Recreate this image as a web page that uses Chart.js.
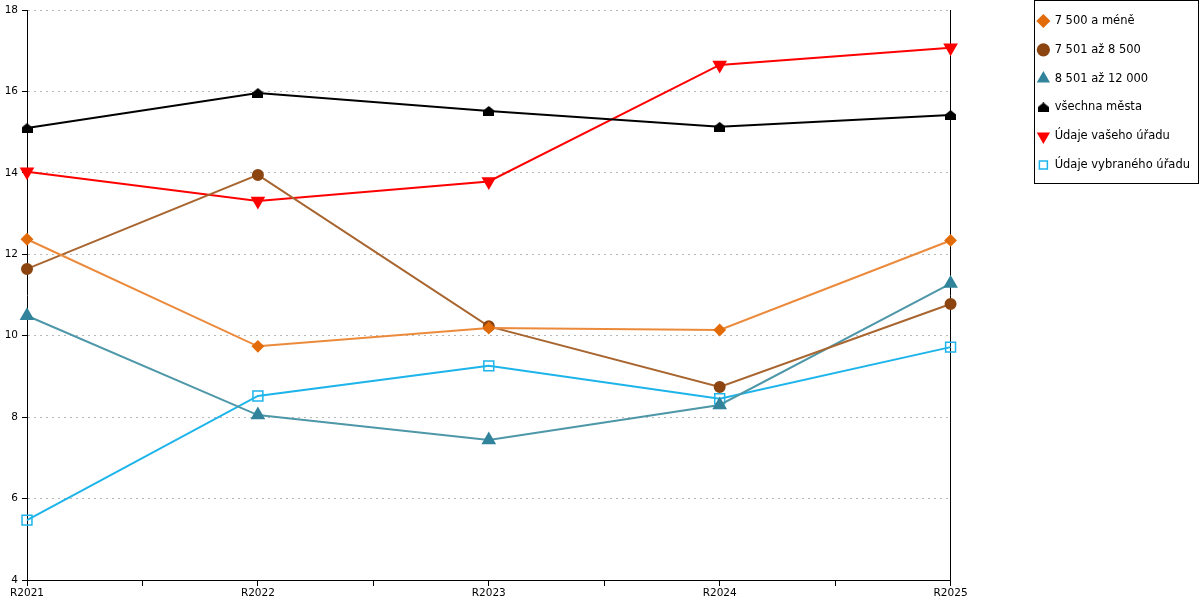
<!DOCTYPE html>
<html>
<head>
<meta charset="utf-8">
<script src="https://cdn.jsdelivr.net/npm/chart.js@4.4.0/dist/chart.umd.min.js"></script>
<style>
  body { margin: 0; background: #fff; }
</style>
</head>
<body>
<canvas id="lineChart" width="1200" height="600"></canvas>
<script>
const years = ["R2021", "R2022", "R2023", "R2024", "R2025"];
const seriesNames = [
  "7 500 a méně",
  "7 501 až 8 500",
  "8 501 až 12 000",
  "všechna města",
  "Údaje vašeho úřadu",
  "Údaje vybraného úřadu",
];
const upTo7500 = [12.37, 9.74, 10.19, 10.14, 12.34];
const from7501 = [11.64, 13.95, 10.23, 8.74, 10.78];
const from8501 = [10.49, 8.05, 7.44, 8.3, 11.28];
const allCities = [15.1, 15.96, 15.52, 15.13, 15.42];
const yourOffice = [14.03, 13.31, 13.79, 16.65, 17.07];
const selectedOffice = [5.47, 8.52, 9.26, 8.45, 9.72];
const yRange = [4, 18];

const tickFont = { family: "DejaVu Sans", size: 10.5 };

// small "house" marker for the all-cities series
function houseMarker(w, h, color) {
  const c = document.createElement("canvas");
  c.width = w;
  c.height = h;
  const g = c.getContext("2d");
  g.fillStyle = color;
  g.beginPath();
  g.moveTo(w / 2, 0);
  g.lineTo(w, h * 0.45);
  g.lineTo(w, h);
  g.lineTo(0, h);
  g.lineTo(0, h * 0.45);
  g.closePath();
  g.fill();
  return c;
}

const toPoints = (values) => values.map((v, i) => ({ x: i, y: v }));

const datasets = [
  {
    label: seriesNames[0],
    data: toPoints(upTo7500),
    borderColor: "#ec8a3c",
    pointBackgroundColor: "#e26b0a",
    pointBorderColor: "#e26b0a",
    pointStyle: "rectRot",
    pointRadius: 5,
  },
  {
    label: seriesNames[1],
    data: toPoints(from7501),
    borderColor: "#a8652f",
    pointBackgroundColor: "#8c4510",
    pointBorderColor: "#8c4510",
    pointStyle: "circle",
    pointRadius: 5,
  },
  {
    label: seriesNames[2],
    data: toPoints(from8501),
    borderColor: "#4e97a8",
    pointBackgroundColor: "#31849b",
    pointBorderColor: "#31849b",
    pointStyle: "triangle",
    pointRadius: 6.5,
  },
  {
    label: seriesNames[3],
    data: toPoints(allCities),
    borderColor: "#000000",
    pointBackgroundColor: "#000000",
    pointBorderColor: "#000000",
    pointStyle: houseMarker(11, 10, "#000000"),
  },
  {
    label: seriesNames[4],
    data: toPoints(yourOffice),
    borderColor: "#ff0000",
    pointBackgroundColor: "#ff0000",
    pointBorderColor: "#ff0000",
    pointStyle: "triangle",
    pointRotation: 180,
    pointRadius: 6.5,
  },
  {
    label: seriesNames[5],
    data: toPoints(selectedOffice),
    borderColor: "#1cb4ea",
    pointBackgroundColor: "rgba(255,255,255,0)",
    pointBorderColor: "#1cb4ea",
    pointStyle: "rect",
    pointRadius: 7,
    pointBorderWidth: 1.5,
  },
].map((d) => Object.assign({ borderWidth: 2, tension: 0, fill: false, clip: false }, d));

// thin frame around the legend
const legendFrame = {
  id: "legendFrame",
  afterDraw(chart) {
    const boxes = chart.legend.legendHitBoxes;
    if (!boxes || !boxes.length) return;
    const last = boxes[boxes.length - 1];
    const ctx = chart.ctx;
    const left = boxes[0].left - 3.5;
    const right = chart.width - 1.5;
    const top = 0.5;
    const bottom = last.top + last.height + 13;
    ctx.save();
    ctx.strokeStyle = "#000";
    ctx.lineWidth = 1;
    ctx.strokeRect(Math.round(left) + 0.5, top, Math.round(right - left), Math.round(bottom - top));
    ctx.restore();
  },
};

const config = {
  type: "line",
  data: { datasets: datasets },
  options: {
    responsive: false,
    animation: false,
    layout: { padding: { top: -2, right: 0, bottom: 0, left: 0 } },
    scales: {
      x: {
        type: "linear",
        min: 0,
        max: years.length - 1,
        ticks: {
          stepSize: 0.5,
          autoSkip: false,
          maxRotation: 0,
          padding: 1,
          color: "#000",
          font: tickFont,
          callback: (v) => (Number.isInteger(v) ? years[v] : ""),
        },
        grid: { drawOnChartArea: false, tickLength: 6, tickColor: "#000" },
        border: { color: "#000" },
        afterFit: (s) => { s.height = 20; },
      },
      y: {
        min: yRange[0],
        max: yRange[1],
        ticks: { stepSize: 2, padding: 4, color: "#000", font: tickFont },
        grid: { color: "#b8b8b8", tickColor: "#000", tickLength: 5 },
        border: { color: "#000", dash: [2, 4] },
        afterFit: (s) => { s.width = 27; s.paddingTop = 10; },
      },
      y2: {
        position: "right",
        min: yRange[0],
        max: yRange[1],
        ticks: { display: false },
        grid: { drawOnChartArea: false, drawTicks: false },
        border: { color: "#000" },
        afterFit: (s) => { s.width = 70; },
      },
    },
    plugins: {
      legend: {
        position: "right",
        align: "start",
        labels: {
          usePointStyle: true,
          boxWidth: 11,
          boxHeight: 8,
          padding: 17.3,
          color: "#000",
          font: { family: "DejaVu Sans", size: 11.5 },
        },
      },
      tooltip: { enabled: false },
    },
  },
  plugins: [legendFrame],
};

const ctx = document.getElementById("lineChart").getContext("2d");
const lineChart = new Chart(ctx, config);
</script>
</body>
</html>
